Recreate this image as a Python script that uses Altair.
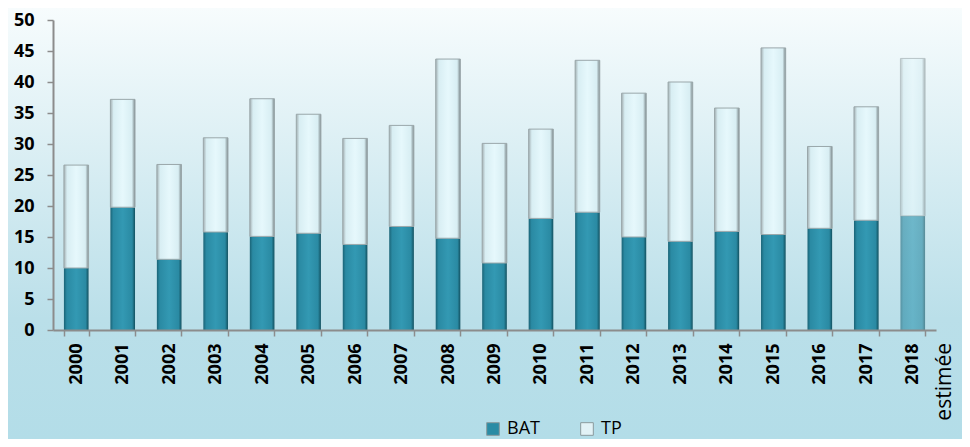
import altair as alt
import pandas as pd

# ---- data ----
years = ["2000", "2001", "2002", "2003", "2004", "2005", "2006", "2007", "2008", "2009",
         "2010", "2011", "2012", "2013", "2014", "2015", "2016", "2017", "2018"]
bat = [10.0, 19.8, 11.4, 15.8, 15.1, 15.6, 13.8, 16.7, 14.8, 10.8,
       18.0, 19.0, 15.0, 14.3, 15.9, 15.4, 16.4, 17.7, 18.4]
tp = [16.6, 17.4, 15.3, 15.2, 22.2, 19.2, 17.1, 16.3, 28.9, 19.3,
      14.4, 24.5, 23.2, 25.7, 19.9, 30.1, 13.2, 18.3, 25.4]
series = ["BAT", "TP"]
y_ticks = [0, 5, 10, 15, 20, 25, 30, 35, 40, 45, 50]
note_year = "2018"
note_text = "estimée"

W, H = 883, 310
PAD = {"left": 45, "top": 12, "right": 26, "bottom": 109}

df = pd.DataFrame({"year": years, "bat": bat, "tp": tp})
note_df = pd.DataFrame({"year": [note_year], "note": [note_text]})
bg_df = pd.DataFrame({"k": [0]})

def stops(pairs):
    return [alt.GradientStop(offset=o, color=c) for o, c in pairs]

bg_grad = alt.LinearGradient(gradient="linear", x1=0, y1=0, x2=0, y2=1,
                             stops=stops([(0, "#f7fcfd"), (0.72, "#badfe9"), (1, "#b3dde8")]))
bat_grad = alt.LinearGradient(gradient="linear", x1=0, y1=0, x2=1, y2=0,
                              stops=stops([(0, "#1a6376"), (0.12, "#2a8aa3"), (0.5, "#3399b3"),
                                           (0.88, "#2a8aa3"), (1, "#12505f")]))
tp_grad = alt.LinearGradient(gradient="linear", x1=0, y1=0, x2=1, y2=0,
                             stops=stops([(0, "#a3afb2"), (0.13, "#d8eef3"), (0.5, "#e6f8fc"),
                                          (0.87, "#d8eef3"), (1, "#7d898c")]))

axis_style = dict(domainColor="#8c8c8c", tickColor="#8c8c8c", domainWidth=2, tickWidth=1.5,
                  tickSize=6, labelFont="Open Sans", labelFontWeight="bold", labelFontSize=18,
                  labelColor="black", grid=False, zindex=2)

x_axis = alt.Axis(labelAngle=-90, tickBand="extent", labelPadding=7,
                  labelAlign="right", labelBaseline="middle", **axis_style)
y_axis = alt.Axis(values=y_ticks, labelPadding=13, **axis_style)

x_enc = alt.X("year:N", sort=years, title=None,
              scale=alt.Scale(paddingInner=0.47, paddingOuter=0.235), axis=x_axis)
y_scale = alt.Scale(domain=[0, 50], nice=False)

opacity = alt.condition(alt.datum.year == note_year, alt.value(0.62), alt.value(1.0))

background = alt.Chart(bg_df).mark_rect(color=bg_grad).encode(
    x=alt.value(-PAD["left"]), x2=alt.value(W + PAD["right"]),
    y=alt.value(-PAD["top"]), y2=alt.value(H + PAD["bottom"]),
)

bat_bars = alt.Chart(df).mark_bar(color=bat_grad).encode(
    x=x_enc,
    y=alt.Y("bat:Q", scale=y_scale, title=None, axis=y_axis),
    opacity=opacity,
)

tp_bars = alt.Chart(df).transform_calculate(total="datum.bat + datum.tp").mark_bar(
    color=tp_grad, stroke="#9aa7aa", strokeWidth=1
).encode(
    x=x_enc,
    y=alt.Y("bat:Q", scale=y_scale, title=None, axis=y_axis),
    y2="total:Q",
    opacity=opacity,
)

note = alt.Chart(note_df).mark_text(
    angle=270, align="right", baseline="alphabetic", dy=38,
    font="Open Sans", fontSize=21, color="black"
).encode(
    x=x_enc,
    y=alt.value(H + 13),
    text="note:N",
)

legend_layer = alt.Chart(df).transform_calculate(series="'BAT'").transform_filter("false").mark_bar().encode(
    x=x_enc,
    y=alt.Y("bat:Q", scale=y_scale, title=None, axis=y_axis),
    color=alt.Color("series:N", title=None,
                    scale=alt.Scale(domain=series, range=["#2a8ca5", "#e2f2f6"]),
                    legend=alt.Legend(orient="none", legendX=431, legendY=400,
                                      direction="horizontal", symbolType="square",
                                      symbolSize=160, symbolStrokeColor="#8a9a9e",
                                      symbolStrokeWidth=1, labelFont="Open Sans",
                                      labelFontSize=18, labelColor="black",
                                      labelOffset=5, columnPadding=38, padding=0,
                                      zindex=2)),
)

chart = alt.layer(background, bat_bars, tp_bars, note, legend_layer).properties(
    width=W, height=H, padding=PAD, autosize=alt.AutoSizeParams(type="none"),
    background="#b3dde8",
).configure_view(stroke=None)

chart.save("out.html", embed_options={"renderer": "svg", "actions": False})
